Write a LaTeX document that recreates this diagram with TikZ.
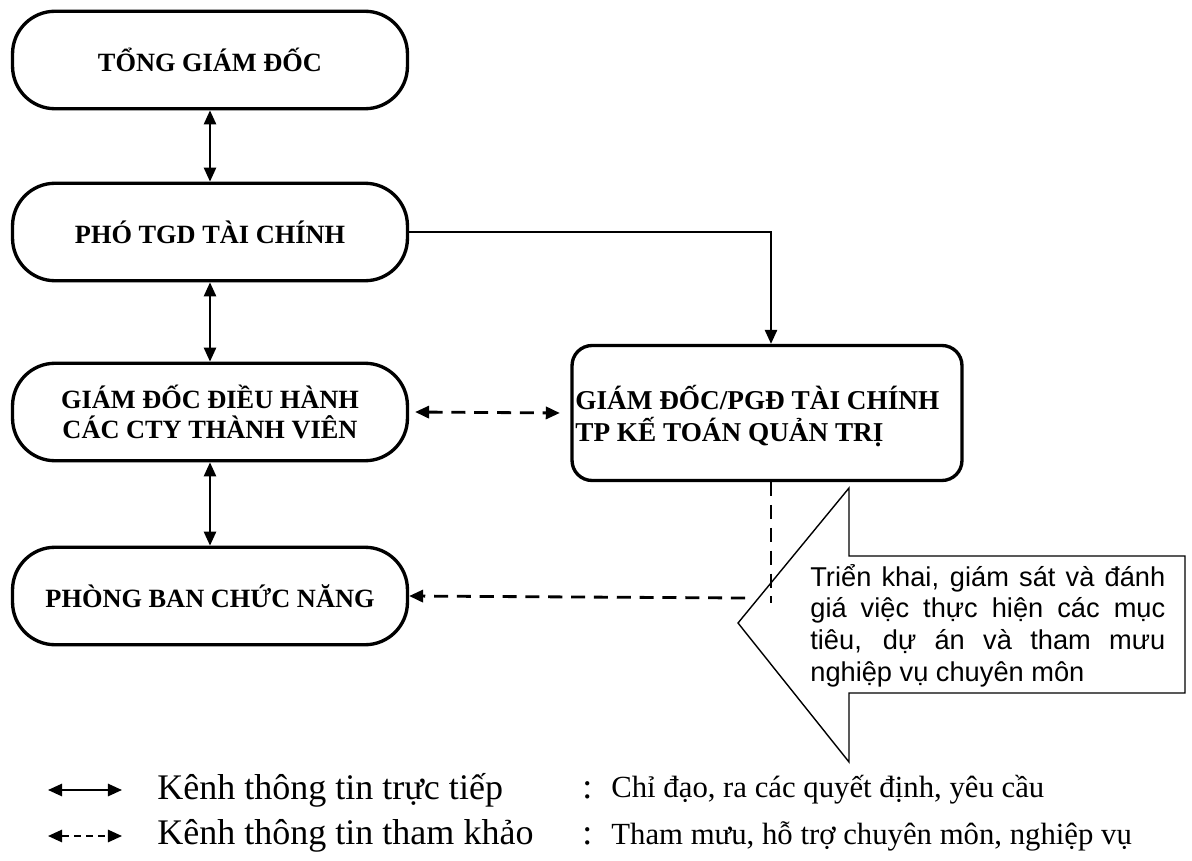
\documentclass[tikz,border=0pt]{standalone}
\usepackage{fontspec}
\usetikzlibrary{arrows.meta}
\setmainfont{Liberation Serif}
\newfontfamily\arialfont{Liberation Sans}
\tikzset{>={Triangle[length=8pt,width=7pt]}}

\begin{document}
\begin{tikzpicture}[x=0.02cm,y=-0.02cm,
  capsule/.style={draw,line width=1.9pt,rounded corners=0.85cm,minimum width=7.9cm,minimum height=1.95cm,align=center,font=\fontsize{15}{17.5}\selectfont\bfseries},
  ktbox/.style={draw,line width=1.9pt,rounded corners=0.4cm,minimum width=7.8cm,minimum height=2.7cm},
  direct/.style={<->,line width=1.1pt},
  thamkhao/.style={line width=1.6pt,dash pattern=on 8pt off 5pt},
  legtext/.style={anchor=west,inner sep=0pt,font=\fontsize{20.5}{24}\selectfont}]
\useasboundingbox (0,0) rectangle (1192,861);
% khung chinh
\node[capsule] (tgd) at (210,60) {TỔNG GIÁM ĐỐC};
\node[capsule] (pho) at (210,232) {PHÓ TGD TÀI CHÍNH};
\node[capsule] (gddh) at (210,412) {GIÁM ĐỐC ĐIỀU HÀNH\\CÁC CTY THÀNH VIÊN};
\node[capsule] (pban) at (210,596) {PHÒNG BAN CHỨC NĂNG};
\node[ktbox] (kt) at (767,413) {};
\node[anchor=west,align=left,inner sep=0pt,font=\fontsize{15.5}{18}\selectfont\bfseries] (kttext) at (575,416) {GIÁM ĐỐC/PGĐ TÀI CHÍNH\\TP KẾ TOÁN QUẢN TRỊ};
\draw[direct] (tgd) -- (pho);
\draw[direct] (pho) -- (gddh);
\draw[direct] (gddh) -- (pban);
\draw[->,line width=1.1pt] (pho.east) -| (kt.north -| 771,0);
\draw[thamkhao,<->] (gddh.east) ++(6,0) -- ([xshift=-6]kt.west);
\coordinate (duoi) at (771,603);
\coordinate (trai) at (745,598);
\draw[thamkhao] (kt.south -| duoi) -- (duoi);
\draw[thamkhao,->] (trai) -- (pban.east);
% mui ten lon
\draw[line width=0.8pt] (738,623) -- (849,488) -- (849,556) -- (1185,556)
  -- (1185,693) -- (849,693) -- (849,762) -- cycle;
\node[anchor=north west,inner sep=0pt,text width=7.1cm,align=justify,
  font=\arialfont\fontsize{15.5}{18}\selectfont] (ghichu) at (810,564)
  {Triển khai, giám sát và đánh\linebreak giá việc thực hiện các mục\linebreak tiêu, dự án và tham mưu\linebreak nghiệp vụ chuyên môn};
% chu thich
\coordinate (a1) at (48,790); \coordinate (b1) at (122,790);
\coordinate (a2) at (48,836); \coordinate (b2) at (122,836);
\draw[direct] (a1) -- (b1);
\draw[<->,line width=1.1pt,dash pattern=on 4pt off 3pt] (a2) -- (b2);
\node[legtext] (k1) at (157,790) {Kênh thông tin trực tiếp};
\node[legtext] (k2) at (157,836) {Kênh thông tin tham khảo};
\node[legtext] (c1) at (582,790) {:};
\node[legtext] (c2) at (582,836) {:};
\node[legtext,font=\fontsize{17.5}{21}\selectfont] (y1) at (611,790) {Chỉ đạo, ra các quyết định, yêu cầu};
\node[legtext,font=\fontsize{17.5}{21}\selectfont] (y2) at (611,836) {Tham mưu, hỗ trợ chuyên môn, nghiệp vụ};
\end{tikzpicture}
\end{document}
